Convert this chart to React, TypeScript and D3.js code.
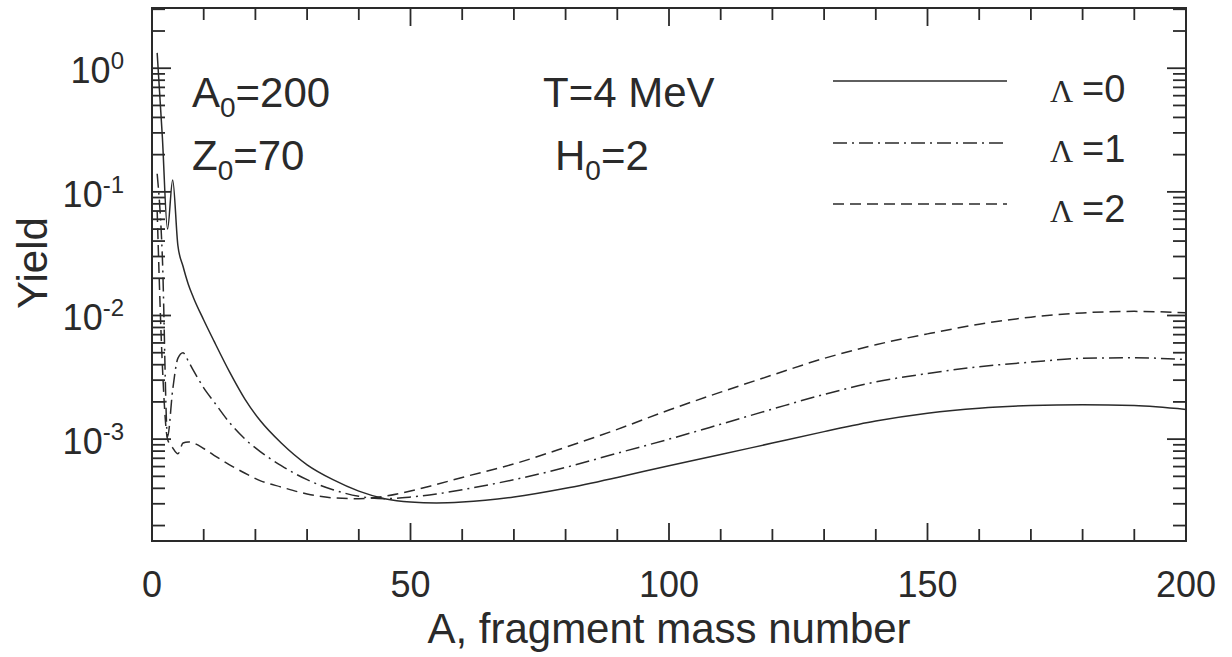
import React from "react";
import * as d3 from "d3";

// fragment mass number grid
const massA = [1, 2, 3, 4, 5, 6, 7, 8, 10, 12, 15, 18, 21, 25, 30, 35, 40, 45, 50, 55, 60, 70, 80, 90, 100, 110, 120, 130, 140, 150, 160, 170, 180, 190, 200];

// yields, Lambda = 0, 1, 2
const yieldL0 = [1.33, 0.28, 0.05, 0.125, 0.037, 0.025, 0.018, 0.014, 0.0092, 0.0062, 0.0035, 0.0021, 0.0014, 9.3e-4, 6.2e-4, 4.7e-4, 3.8e-4, 3.3e-4, 3.1e-4, 3.05e-4, 3.1e-4, 3.4e-4, 4.0e-4, 4.9e-4, 6.1e-4, 7.5e-4, 9.3e-4, 1.15e-3, 1.4e-3, 1.62e-3, 1.78e-3, 1.87e-3, 1.9e-3, 1.87e-3, 1.74e-3];
const yieldL1 = [0.14, 0.03, 1.05e-3, 2.5e-3, 4.5e-3, 5.0e-3, 4.3e-3, 3.6e-3, 2.6e-3, 2.0e-3, 1.36e-3, 1.0e-3, 7.9e-4, 6.1e-4, 4.7e-4, 3.9e-4, 3.45e-4, 3.3e-4, 3.4e-4, 3.6e-4, 3.9e-4, 4.7e-4, 5.9e-4, 7.7e-4, 1.0e-3, 1.32e-3, 1.75e-3, 2.3e-3, 2.9e-3, 3.4e-3, 3.85e-3, 4.2e-3, 4.5e-3, 4.55e-3, 4.4e-3];
const yieldL2 = [0.07, 0.004, 1.0e-3, 8.5e-4, 7.6e-4, 9.3e-4, 9.5e-4, 9.3e-4, 8.4e-4, 7.4e-4, 6.2e-4, 5.3e-4, 4.6e-4, 4.1e-4, 3.6e-4, 3.35e-4, 3.3e-4, 3.45e-4, 3.8e-4, 4.3e-4, 4.9e-4, 6.3e-4, 8.6e-4, 1.2e-3, 1.72e-3, 2.4e-3, 3.3e-3, 4.5e-3, 5.8e-3, 7.1e-3, 8.5e-3, 9.7e-3, 1.05e-2, 1.08e-2, 1.05e-2];

const seriesNames = ["Λ=0", "Λ=1", "Λ=2"];
const xTickLabels = [0, 50, 100, 150, 200];
const yDecades = [0, -1, -2, -3];

const W = 1232;
const H = 657;
const left = 152, right = 1186, top = 8, bottom = 541;
const sans = "'Liberation Sans', Arial, sans-serif";
const ink = "#2a2a2a";

export default function App() {
  const x = d3.scaleLinear().domain([0, 200]).range([left, right]);
  const y = d3.scaleLog().domain([1.5e-4, 3.07]).range([bottom, top]);

  const series = [yieldL0, yieldL1, yieldL2].map((vals, i) => ({
    name: seriesNames[i],
    pts: massA.map((a, j) => [a, vals[j]] as [number, number]),
  }));
  const dashes = ["none", "14 5 2 5", "11 6"];

  const line = d3
    .line<[number, number]>()
    .x((d) => x(d[0]))
    .y((d) => y(d[1]))
    .curve(d3.curveMonotoneX);

  const xMinor = d3.range(0, 201, 10);
  const yMinor: number[] = [];
  for (let e = -4; e <= 0; e++) {
    for (let m = 1; m <= 9; m++) {
      const v = m * Math.pow(10, e);
      if (v >= 1.5e-4 && v <= 3.07) yMinor.push(v);
    }
  }

  const legendY = [81, 143, 204];
  const legendBase = [102, 162, 222];

  return (
    <svg width={W} height={H} style={{ position: "absolute", left: 0, top: 0, background: "#fff" }} fontFamily={sans}>
      <rect x={0} y={0} width={W} height={H} fill="#fff" />
      {/* ticks */}
      <g stroke={ink} strokeWidth={1.8}>
        {xMinor.map((v) => {
          const len = v % 50 === 0 ? 18 : 12;
          return (
            <g key={"xt" + v}>
              <line x1={x(v)} x2={x(v)} y1={bottom} y2={bottom - len} />
              <line x1={x(v)} x2={x(v)} y1={top} y2={top + len} />
            </g>
          );
        })}
        {yMinor.map((v) => {
          const isMajor = Math.abs(Math.log10(v) - Math.round(Math.log10(v))) < 1e-9;
          const len = isMajor ? 19 : 13;
          return (
            <g key={"yt" + v}>
              <line x1={left} x2={left + len} y1={y(v)} y2={y(v)} />
              <line x1={right} x2={right - len} y1={y(v)} y2={y(v)} />
            </g>
          );
        })}
      </g>
      {/* curves */}
      <g fill="none" stroke={ink} strokeWidth={1.5}>
        {series.map((s, i) => (
          <path key={s.name} d={line(s.pts) || ""} strokeDasharray={dashes[i]} />
        ))}
      </g>
      <rect x={left} y={top} width={right - left} height={bottom - top} fill="none" stroke={ink} strokeWidth={2} />
      {/* x tick labels */}
      {xTickLabels.map((v) => (
        <text key={"xl" + v} x={x(v)} y={597} textAnchor="middle" fontSize={36} fill={ink}>
          {v}
        </text>
      ))}
      {/* y tick labels */}
      {yDecades.map((e) => (
        <text key={"yl" + e} x={124} y={y(Math.pow(10, e)) + 15} textAnchor="end" fontSize={36} fill={ink}>
          10
          <tspan dy={-14} fontSize={24}>{e}</tspan>
        </text>
      ))}
      <text transform={`translate(47,263) rotate(-90)`} textAnchor="middle" fontSize={42} fill={ink}>
        Yield
      </text>
      <text x={(left + right) / 2} y={643} textAnchor="middle" fontSize={42} fill={ink}>
        A, fragment mass number
      </text>
      {/* annotations */}
      <g fontSize={42} fill={ink}>
        <text x={192} y={107}>
          A<tspan dy={10} fontSize={28}>0</tspan>
          <tspan dy={-10}>=200</tspan>
        </text>
        <text x={192} y={170}>
          Z<tspan dy={10} fontSize={28}>0</tspan>
          <tspan dy={-10}>=70</tspan>
        </text>
        <text x={543} y={107}>T=4 MeV</text>
        <text x={555} y={170}>
          H<tspan dy={10} fontSize={28}>0</tspan>
          <tspan dy={-10}>=2</tspan>
        </text>
      </g>
      {/* legend */}
      {series.map((s, i) => (
        <g key={"lg" + i}>
          <line x1={833} x2={1007} y1={legendY[i]} y2={legendY[i]} stroke={ink} strokeWidth={1.5} strokeDasharray={dashes[i]} />
          <text x={1050} y={legendBase[i]} fontSize={32} fill={ink} fontFamily="'Liberation Serif', serif">
            {s.name.slice(0, 1)}
          </text>
          <text x={1082} y={legendBase[i]} fontSize={38} fill={ink}>
            {s.name.slice(1)}
          </text>
        </g>
      ))}
    </svg>
  );
}
